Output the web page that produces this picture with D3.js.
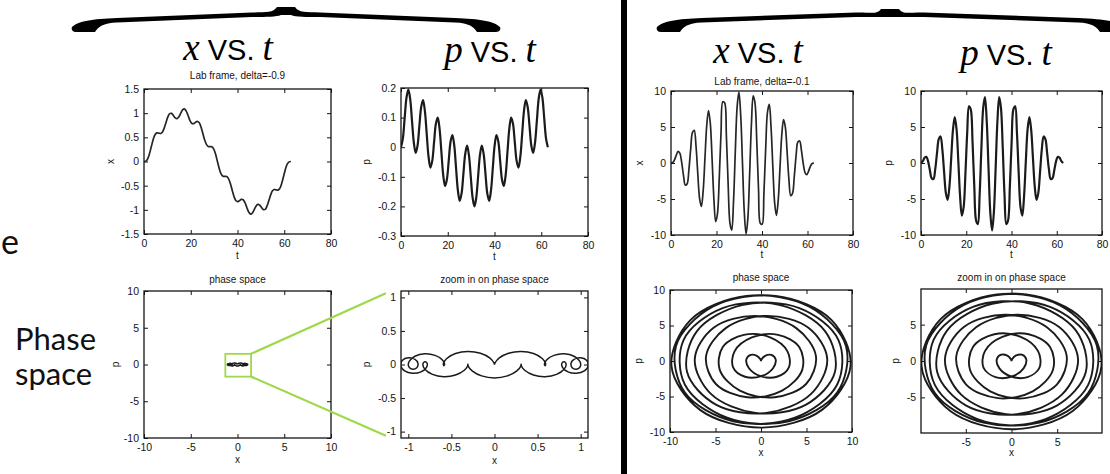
<!DOCTYPE html>
<html>
<head>
<meta charset="utf-8">
<script src="https://cdn.jsdelivr.net/npm/d3@7"></script>
<style>
  body { margin: 0; background: #fff; }
  svg { display: block; }
</style>
</head>
<body>
<svg id="fig" width="1110" height="474"></svg>
<script>
// Sample times (one period of the slow envelope, 0 .. 62.83)
const tSteps = [
  0, 0.79, 1.57, 2.36, 3.14, 3.93, 4.71, 5.50, 6.28, 7.07,
  7.85, 8.64, 9.42, 10.21, 11.00, 11.78, 12.57, 13.35, 14.14, 14.92,
  15.71, 16.49, 17.28, 18.06, 18.85, 19.63, 20.42, 21.21, 21.99, 22.78,
  23.56, 24.35, 25.13, 25.92, 26.70, 27.49, 28.27, 29.06, 29.85, 30.63,
  31.42, 32.20, 32.99, 33.77, 34.56, 35.34, 36.13, 36.91, 37.70, 38.48,
  39.27, 40.06, 40.84, 41.63, 42.41, 43.20, 43.98, 44.77, 45.55, 46.34,
  47.12, 47.91, 48.69, 49.48, 50.27, 51.05, 51.84, 52.62, 53.41, 54.19,
  54.98, 55.76, 56.55, 57.33, 58.12, 58.90, 59.69, 60.48, 61.26, 62.05,
  62.83
];

// delta = -0.9 : position and momentum
const xFar = [
  0, 0.008, 0.056, 0.163, 0.309, 0.453, 0.554, 0.593, 0.588, 0.579,
  0.607, 0.690, 0.809, 0.923, 0.991, 0.995, 0.951, 0.902, 0.888, 0.926,
  1.000, 1.068, 1.088, 1.043, 0.951, 0.853, 0.791, 0.782, 0.809, 0.831,
  0.807, 0.720, 0.588, 0.452, 0.354, 0.312, 0.309, 0.304, 0.256, 0.149,
  0, -0.149, -0.256, -0.304, -0.309, -0.312, -0.354, -0.452, -0.588, -0.720,
  -0.807, -0.831, -0.809, -0.782, -0.791, -0.853, -0.951, -1.043, -1.088, -1.068,
  -1.000, -0.926, -0.888, -0.902, -0.951, -0.995, -0.991, -0.923, -0.809, -0.690,
  -0.607, -0.579, -0.588, -0.593, -0.554, -0.453, -0.309, -0.163, -0.056, -0.008,
  0
];
const pFar = [
  0, 0.029, 0.099, 0.168, 0.195, 0.163, 0.089, 0.015, -0.019, 0.005,
  0.071, 0.136, 0.159, 0.123, 0.045, -0.032, -0.069, -0.047, 0.016, 0.079,
  0.100, 0.063, -0.016, -0.094, -0.131, -0.109, -0.045, 0.019, 0.041, 0.006,
  -0.071, -0.147, -0.181, -0.156, -0.089, -0.022, 0.005, -0.027, -0.099, -0.170,
  -0.200, -0.170, -0.099, -0.027, 0.005, -0.022, -0.089, -0.156, -0.181, -0.147,
  -0.071, 0.006, 0.041, 0.019, -0.045, -0.109, -0.131, -0.094, -0.016, 0.063,
  0.100, 0.079, 0.016, -0.047, -0.069, -0.032, 0.045, 0.123, 0.159, 0.136,
  0.071, 0.005, -0.019, 0.015, 0.089, 0.163, 0.195, 0.168, 0.099, 0.029,
  0
];

// delta = -0.1 : position and momentum
const xNear = [
  0, 0.068, 0.457, 1.127, 1.610, 1.322, 0.047, -1.751, -3.063, -2.907,
  -1.005, 1.878, 4.215, 4.532, 2.324, -1.498, -4.956, -6.038, -3.875, 0.646,
  5.211, 7.278, 5.504, 0.593, -4.956, -8.130, -7.055, -2.100, 4.215, 8.510,
  8.374, 3.725, -3.063, -8.383, -9.332, -5.310, 1.610, 7.758, 9.836, 6.700,
  0, -6.700, -9.836, -7.758, -1.610, 5.310, 9.332, 8.383, 3.063, -3.725,
  -8.374, -8.510, -4.215, 2.100, 7.055, 8.130, 4.956, -0.593, -5.504, -7.278,
  -5.211, -0.646, 3.875, 6.038, 4.956, 1.498, -2.324, -4.532, -4.215, -1.878,
  1.005, 2.907, 3.063, 1.751, -0.047, -1.322, -1.610, -1.127, -0.457, -0.068,
  0
];
const pNear = [
  0, 0.250, 0.733, 0.866, 0.229, -1.017, -2.129, -2.221, -0.896, 1.359,
  3.316, 3.684, 1.933, -1.244, -4.178, -5.111, -3.240, 0.682, 4.632, 6.361,
  4.690, 0.271, -4.632, -7.314, -6.139, -1.521, 4.178, 7.876, 7.446, 2.948,
  -3.316, -7.991, -8.483, -4.410, 2.129, 7.649, 9.150, 5.766, -0.733, -6.882,
  -9.379, -6.882, -0.733, 5.766, 9.150, 7.649, 2.129, -4.410, -8.483, -7.991,
  -3.316, 2.948, 7.446, 7.876, 4.178, -1.521, -6.139, -7.314, -4.632, 0.271,
  4.690, 6.361, 4.632, 0.682, -3.240, -5.111, -4.178, -1.244, 1.933, 3.684,
  3.316, 1.359, -0.896, -2.221, -2.129, -1.017, 0.229, 0.866, 0.733, 0.250,
  0
];

const deltas = ["-0.9", "-0.1"];
const tTicks = [0, 20, 40, 60, 80];
const xTicksFar = [-1.5, -1, -0.5, 0, 0.5, 1, 1.5];
const pTicksFar = [-0.3, -0.2, -0.1, 0, 0.1, 0.2];
const phaseTicks = [-10, -5, 0, 5, 10];
const zoomTicksFar = [-1, -0.5, 0, 0.5, 1];
const zoomTicksNear = [-5, 0, 5];
const zoomBoxX = [-1.3, 1.45];
const zoomBoxP = [-1.65, 1.45];

const svg = d3.select("#fig");
const SANS = "'Liberation Sans', Arial, Helvetica, sans-serif";
const SERIF = "'Liberation Serif', 'Times New Roman', serif";
const INK = "#141414";
let clipCount = 0;

svg.append("rect").attr("width", 1110).attr("height", 474).attr("fill", "#fff");

function drawPanel(o) {
  const x = d3.scaleLinear().domain(o.xDomain).range([o.left, o.right]);
  const y = d3.scaleLinear().domain(o.yDomain).range([o.bottom, o.top]);
  const g = svg.append("g");
  const cid = "panel-clip-" + (clipCount++);
  g.append("clipPath").attr("id", cid).append("rect")
    .attr("x", o.left).attr("y", o.top)
    .attr("width", o.right - o.left).attr("height", o.bottom - o.top);

  const fmt = d => String(d);
  const axes = [
    [d3.axisBottom(x).tickValues(o.xTicks).tickFormat(fmt).tickPadding(6), `translate(0,${o.bottom})`],
    [d3.axisTop(x).tickValues(o.xTicks).tickFormat(""), `translate(0,${o.top})`],
    [d3.axisLeft(y).tickValues(o.yTicks).tickFormat(fmt).tickPadding(5), `translate(${o.left},0)`],
    [d3.axisRight(y).tickValues(o.yTicks).tickFormat(""), `translate(${o.right},0)`]
  ];
  axes.forEach(([ax, tr]) => {
    const a = g.append("g").attr("transform", tr)
      .call(ax.tickSizeInner(-4).tickSizeOuter(0));
    a.select(".domain").remove();
    a.selectAll(".tick line").attr("stroke", INK).attr("stroke-width", 1);
    a.selectAll(".tick text").attr("fill", INK)
      .style("font-family", SANS).style("font-size", "10.5px");
  });

  const line = d3.line()
    .x(d => x(d[0])).y(d => y(d[1]))
    .curve(d3.curveCatmullRom.alpha(0.5));
  g.append("path").datum(o.points)
    .attr("clip-path", `url(#${cid})`)
    .attr("fill", "none")
    .attr("stroke", o.stroke || "#1b1b1b")
    .attr("stroke-width", o.width || 1.8)
    .attr("stroke-linejoin", "round")
    .attr("d", line);

  g.append("rect")
    .attr("x", o.left).attr("y", o.top)
    .attr("width", o.right - o.left).attr("height", o.bottom - o.top)
    .attr("fill", "none").attr("stroke", INK).attr("stroke-width", 1.3);

  const cx = (o.left + o.right) / 2, cy = (o.top + o.bottom) / 2;
  if (o.title) {
    g.append("text").attr("x", cx).attr("y", o.titleY)
      .attr("text-anchor", "middle").attr("fill", INK)
      .style("font-family", SANS).style("font-size", "10px")
      .text(o.title);
  }
  g.append("text").attr("x", cx).attr("y", o.xLabelY)
    .attr("text-anchor", "middle").attr("fill", INK)
    .style("font-family", SANS).style("font-size", "10px")
    .text(o.xLabel);
  g.append("text")
    .attr("transform", `translate(${o.yLabelX},${cy}) rotate(-90)`)
    .attr("text-anchor", "middle").attr("fill", INK)
    .style("font-family", SANS).style("font-size", "10px")
    .text(o.yLabel);
  return { x, y };
}

const series = (ts, vs) => ts.map((t, i) => [t, vs[i]]);
const orbit = (xs, ps) => xs.map((v, i) => [v, ps[i]]);

// ---- delta = -0.9 ----
drawPanel({
  left: 144, right: 331, top: 89, bottom: 234,
  xDomain: [0, 80], yDomain: [-1.5, 1.5], xTicks: tTicks, yTicks: xTicksFar,
  points: series(tSteps, xFar), stroke: "#262626", width: 1.7,
  title: `Lab frame, delta=${deltas[0]}`, titleY: 79,
  xLabel: "t", xLabelY: 259, yLabel: "x", yLabelX: 114
});
drawPanel({
  left: 401, right: 588, top: 88, bottom: 236,
  xDomain: [0, 80], yDomain: [-0.3, 0.2], xTicks: tTicks, yTicks: pTicksFar,
  points: series(tSteps, pFar), width: 2.2,
  xLabel: "t", xLabelY: 260, yLabel: "p", yLabelX: 370
});
const ps1 = drawPanel({
  left: 144, right: 331, top: 291, bottom: 438,
  xDomain: [-10, 10], yDomain: [-10, 10], xTicks: phaseTicks, yTicks: phaseTicks,
  points: orbit(xFar, pFar), width: 1.6,
  title: "phase space", titleY: 283,
  xLabel: "x", xLabelY: 463, yLabel: "p", yLabelX: 119
});
const zs1 = drawPanel({
  left: 401, right: 588, top: 291, bottom: 438,
  xDomain: [-1.085, 1.085], yDomain: [-1.095, 1.095], xTicks: zoomTicksFar, yTicks: zoomTicksFar,
  points: orbit(xFar, pFar), width: 1.5,
  title: "zoom in on phase space", titleY: 283,
  xLabel: "x", xLabelY: 464, yLabel: "p", yLabelX: 370
});

// zoom window and connectors
const GREEN = "#9fd84a";
svg.append("rect")
  .attr("x", ps1.x(zoomBoxX[0])).attr("y", ps1.y(zoomBoxP[1]))
  .attr("width", ps1.x(zoomBoxX[1]) - ps1.x(zoomBoxX[0]))
  .attr("height", ps1.y(zoomBoxP[0]) - ps1.y(zoomBoxP[1]))
  .attr("fill", "none").attr("stroke", GREEN).attr("stroke-width", 1.8);
[[zoomBoxP[1], 1.06], [zoomBoxP[0], -1.06]].forEach(([from, to]) => {
  svg.append("line")
    .attr("x1", ps1.x(zoomBoxX[1])).attr("y1", ps1.y(from))
    .attr("x2", zs1.x(-1.26)).attr("y2", zs1.y(to))
    .attr("stroke", GREEN).attr("stroke-width", 2.2);
});

// ---- delta = -0.1 ----
drawPanel({
  left: 671, right: 853, top: 91, bottom: 235,
  xDomain: [0, 80], yDomain: [-10, 10], xTicks: tTicks, yTicks: phaseTicks,
  points: series(tSteps, xNear), stroke: "#262626", width: 1.7,
  title: `Lab frame, delta=${deltas[1]}`, titleY: 85,
  xLabel: "t", xLabelY: 258, yLabel: "x", yLabelX: 643
});
drawPanel({
  left: 921, right: 1102, top: 91, bottom: 235,
  xDomain: [0, 80], yDomain: [-10, 10], xTicks: tTicks, yTicks: phaseTicks,
  points: series(tSteps, pNear), width: 2.2,
  xLabel: "t", xLabelY: 258, yLabel: "p", yLabelX: 892
});
drawPanel({
  left: 670, right: 852, top: 290, bottom: 432,
  xDomain: [-10, 10], yDomain: [-10, 10], xTicks: phaseTicks, yTicks: phaseTicks,
  points: orbit(xNear, pNear), width: 1.9,
  title: "phase space", titleY: 281,
  xLabel: "x", xLabelY: 456, yLabel: "p", yLabelX: 642
});
drawPanel({
  left: 921, right: 1102, top: 289, bottom: 433,
  xDomain: [-9.9, 9.9], yDomain: [-9.9, 9.9], xTicks: zoomTicksNear, yTicks: zoomTicksNear,
  points: orbit(xNear, pNear), width: 1.9,
  title: "zoom in on phase space", titleY: 281,
  xLabel: "x", xLabelY: 456, yLabel: "p", yLabelX: 899
});

// ---- separator ----
svg.append("rect").attr("x", 621).attr("y", 0).attr("width", 6).attr("height", 474).attr("fill", "#000");

// ---- curly braces over each pair of columns ----
function braceHalf(H, yT, yE) {
  return `M ${-H},${yE - 5}
    C ${-H + 6},${yE - 11} ${-H + 20},${yE - 13} ${-H + 45},${yE - 14}
    L -34,${yE - 19.5}
    C -20,${yE - 20} -13,${yT + 6} -9,${yT}
    L 0.6,${yT} L 0.6,${yT + 8} L -5,${yT + 8}
    C -10,${yE - 15} -20,${yE - 15} -34,${yE - 15}
    L ${-H + 45},${yE - 9.5}
    C ${-H + 31},${yE - 9} ${-H + 26},${yE - 5} ${-H + 23},${yE}
    L ${-H + 4},${yE}
    C ${-H},${yE} ${-H - 1},${yE - 3} ${-H},${yE - 5} Z`;
}
[[286, 214, 7, 32], [890, 233, 9, 32]].forEach(([cx, H, yT, yE]) => {
  const d = braceHalf(H, yT, yE);
  svg.append("path").attr("d", d).attr("fill", "#000").attr("transform", `translate(${cx},0)`);
  svg.append("path").attr("d", d).attr("fill", "#000").attr("transform", `translate(${cx},0) scale(-1,1)`);
});

// ---- column headings ----
function heading(cx, baseline, v) {
  const t = svg.append("text").attr("x", cx).attr("y", baseline)
    .attr("text-anchor", "middle").attr("fill", "#000");
  t.append("tspan").style("font-family", SERIF).style("font-style", "italic").style("font-size", "37px").text(v);
  t.append("tspan").style("font-family", SANS).style("font-size", "29px").text(" VS. ");
  t.append("tspan").style("font-family", SERIF).style("font-style", "italic").style("font-size", "37px").text("t");
}
heading(228, 60, "x");
heading(490, 62, "p");
heading(758, 63, "x");
heading(1006, 65, "p");

// ---- row captions ----
svg.append("text").attr("x", 1).attr("y", 254).attr("text-anchor", "start")
  .style("font-family", "Lato, 'Open Sans', sans-serif").style("font-size", "34px").attr("fill", "#111").text("e");
const cap = svg.append("text").style("font-family", "Lato, 'Open Sans', sans-serif")
  .style("font-size", "31px").attr("fill", "#111");
cap.append("tspan").attr("x", 15).attr("y", 350).text("Phase");
cap.append("tspan").attr("x", 15).attr("y", 385).text("space");
</script>
</body>
</html>
